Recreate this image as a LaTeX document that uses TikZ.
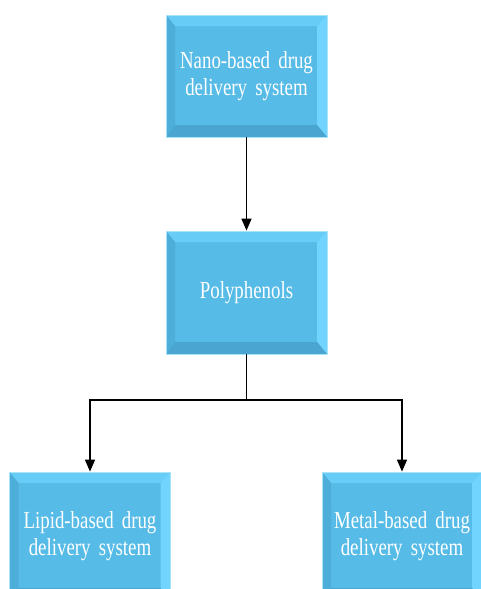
\documentclass[tikz,border=0pt]{standalone}
\usepackage{fontspec}
\newfontfamily\boxfont{Liberation Serif}[FakeStretch=0.77]
\usetikzlibrary{arrows.meta}
\definecolor{facec}{HTML}{56BBE6}
\definecolor{topc}{HTML}{68CDF6}
\definecolor{leftc}{HTML}{4DAEDA}
\definecolor{rightc}{HTML}{70D4FF}
\definecolor{botc}{HTML}{4AA6D0}
\definecolor{haloc}{HTML}{A9E3FA}
\tikzset{
  bevbox/.style={rectangle, fill=facec, draw=haloc, line width=0.8pt, inner sep=0pt,
    minimum width=161pt, text width=150pt, align=center, text=white,
    font=\boxfont\fontsize{24.5}{27.5}\selectfont,
    path picture={
      \coordinate (NW) at (path picture bounding box.north west);
      \coordinate (NE) at (path picture bounding box.north east);
      \coordinate (SW) at (path picture bounding box.south west);
      \coordinate (SE) at (path picture bounding box.south east);
      \fill[topc] (NW) -- (NE) -- ([shift={(-10pt,-11pt)}]NE) -- ([shift={(9pt,-11pt)}]NW) -- cycle;
      \fill[leftc] (NW) -- ([shift={(9pt,-11pt)}]NW) -- ([shift={(9pt,12pt)}]SW) -- (SW) -- cycle;
      \fill[rightc] (NE) -- ([shift={(-10pt,-11pt)}]NE) -- ([shift={(-10pt,12pt)}]SE) -- (SE) -- cycle;
      \fill[botc] (SW) -- ([shift={(9pt,12pt)}]SW) -- ([shift={(-10pt,12pt)}]SE) -- (SE) -- cycle;
    }},
  arr/.style={draw=black, line width=1.5pt, -{Triangle[length=12pt,width=10pt]}},
  conn/.style={draw=black, line width=1.5pt}
}
\begin{document}
\begin{tikzpicture}[x=1pt,y=-1pt]
\useasboundingbox (0,0) rectangle (481,589);
\clip (0,0) rectangle (481,589);
\fill[white] (0,0) rectangle (481,589);
\node[bevbox, minimum height=122pt] (nano) at (246.5,76) {Nano-based drug\\delivery system};
\node[bevbox, minimum height=123pt] (poly) at (246.5,292.5) {Polyphenols};
\node[bevbox, minimum height=128pt] (lipid) at (90,536) {Lipid-based drug\\delivery system};
\node[bevbox, minimum height=128pt, minimum width=160pt] (metal) at (402,536) {Metal-based drug\\delivery system};
\coordinate (junc) at (246.5,400);
\draw[arr] (nano) -- (poly);
\draw[conn] (poly) -- (junc);
\draw[arr] (junc) -| (lipid);
\draw[arr] (junc) -| (metal);
\end{tikzpicture}
\end{document}
